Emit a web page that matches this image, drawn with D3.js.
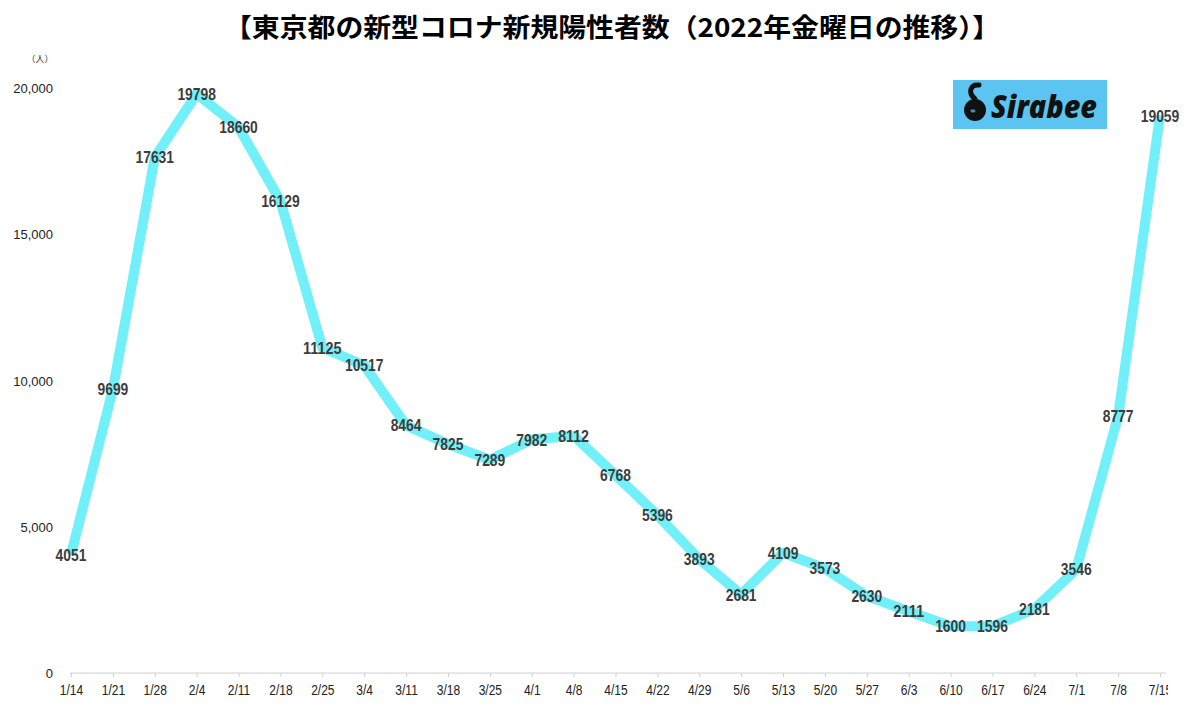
<!DOCTYPE html>
<html>
<head>
<meta charset="utf-8">
<script src="https://cdn.jsdelivr.net/npm/d3@7"></script>
<style>
  body { margin: 0; background: #fff; }
</style>
</head>
<body>
<div id="container"></div>
<script>
// weekly Friday counts, Tokyo 2022
var dates = ["1/14","1/21","1/28","2/4","2/11","2/18","2/25","3/4","3/11","3/18","3/25","4/1","4/8",
  "4/15","4/22","4/29","5/6","5/13","5/20","5/27","6/3","6/10","6/17","6/24","7/1","7/8","7/15"];
var cases = [4051, 9699, 17631, 19798, 18660, 16129, 11125, 10517, 8464, 7825, 7289, 7982, 8112,
  6768, 5396, 3893, 2681, 4109, 3573, 2630, 2111, 1600, 1596, 2181, 3546, 8777, 19059];
var yTicks = [0, 5000, 10000, 15000, 20000];

var W = 1200, H = 713;
var svg = d3.select("#container").append("svg")
  .attr("width", W).attr("height", H);

var x = d3.scalePoint().domain(dates).range([71, 1160]);
var y = d3.scaleLinear().domain([0, 20000]).range([673, 88]);

// title
svg.append("text")
  .attr("x", 612).attr("y", 37)
  .attr("text-anchor", "middle")
  .attr("textLength", 776).attr("lengthAdjust", "spacingAndGlyphs")
  .style("font-family", "'Noto Sans CJK JP', sans-serif")
  .style("font-weight", "bold").style("font-size", "26px")
  .style("fill", "#000")
  .text("【東京都の新型コロナ新規陽性者数（2022年金曜日の推移）】");

// unit
svg.append("text")
  .attr("x", 40).attr("y", 62)
  .attr("text-anchor", "middle")
  .style("font-family", "'Noto Sans CJK JP', sans-serif")
  .style("font-size", "9px").style("fill", "#333")
  .text("（人）");

// y labels
svg.append("g").selectAll("text")
  .data(yTicks).enter().append("text")
  .attr("x", 53).attr("y", function(d) { return y(d) + 5; })
  .attr("text-anchor", "end")
  .style("font-family", "'Liberation Sans', Arial, sans-serif")
  .style("font-size", "13px").style("fill", "#222")
  .text(function(d) { return d3.format(",")(d); });

// x axis (last label is cut at the right edge like the source)
svg.append("clipPath").attr("id", "clipx")
  .append("rect").attr("x", 0).attr("y", -10).attr("width", 1168).attr("height", 60);

var xAxis = svg.append("g")
  .attr("transform", "translate(0," + y(0) + ")")
  .attr("clip-path", "url(#clipx)")
  .call(d3.axisBottom(x).tickSize(4).tickPadding(7));
xAxis.select(".domain").attr("d", "M70,0H1166").attr("stroke", "#d0d0d0");
xAxis.selectAll(".tick line").attr("stroke", "#d0d0d0");
xAxis.selectAll(".tick text")
  .style("font-family", "'Liberation Sans', Arial, sans-serif")
  .style("font-size", "15px").style("fill", "#222")
  .attr("lengthAdjust", "spacingAndGlyphs")
  .each(function() { this.setAttribute("textLength", this.getComputedTextLength() * 0.8); });

// line
var line = d3.line()
  .x(function(d, i) { return x(dates[i]); })
  .y(function(d) { return y(d); });

svg.append("path")
  .datum(cases)
  .attr("d", line)
  .attr("fill", "none")
  .attr("stroke", "#72f0f9")
  .attr("stroke-width", 10)
  .attr("stroke-linejoin", "round");

// data labels
svg.append("g").selectAll("text")
  .data(cases).enter().append("text")
  .attr("x", function(d, i) { return x(dates[i]); })
  .attr("y", function(d) { return y(d) + 6; })
  .attr("text-anchor", "middle")
  .attr("textLength", function(d) { return String(d).length * 7.7; })
  .attr("lengthAdjust", "spacingAndGlyphs")
  .style("font-family", "'Liberation Sans', Arial, sans-serif")
  .style("font-weight", "bold").style("font-size", "16px")
  .style("fill", "#3c3c3c")
  .text(function(d) { return d; });

// logo
var logo = svg.append("g").attr("transform", "translate(953,80)");
logo.append("rect").attr("width", 154).attr("height", 49).attr("fill", "#5cc4f0");
logo.append("circle").attr("cx", 22).attr("cy", 30).attr("r", 11).attr("fill", "#111");
logo.append("path")
  .attr("d", "M22,19 C14,12 18,4 26,5")
  .attr("fill", "none").attr("stroke", "#111").attr("stroke-width", 5)
  .attr("stroke-linecap", "round");
logo.append("text")
  .attr("x", 20).attr("y", 33).attr("text-anchor", "middle")
  .style("font-family", "'DejaVu Sans', sans-serif")
  .style("font-size", "7px").style("font-weight", "bold").style("fill", "#5cc4f0")
  .text("∞");
logo.append("text")
  .attr("x", 38).attr("y", 38)
  .attr("textLength", 106).attr("lengthAdjust", "spacingAndGlyphs")
  .style("font-family", "'Open Sans', 'Liberation Sans', sans-serif")
  .style("font-weight", "800").style("font-style", "italic")
  .style("font-size", "31px").style("fill", "#111")
  .text("Sirabee");
</script>
</body>
</html>
